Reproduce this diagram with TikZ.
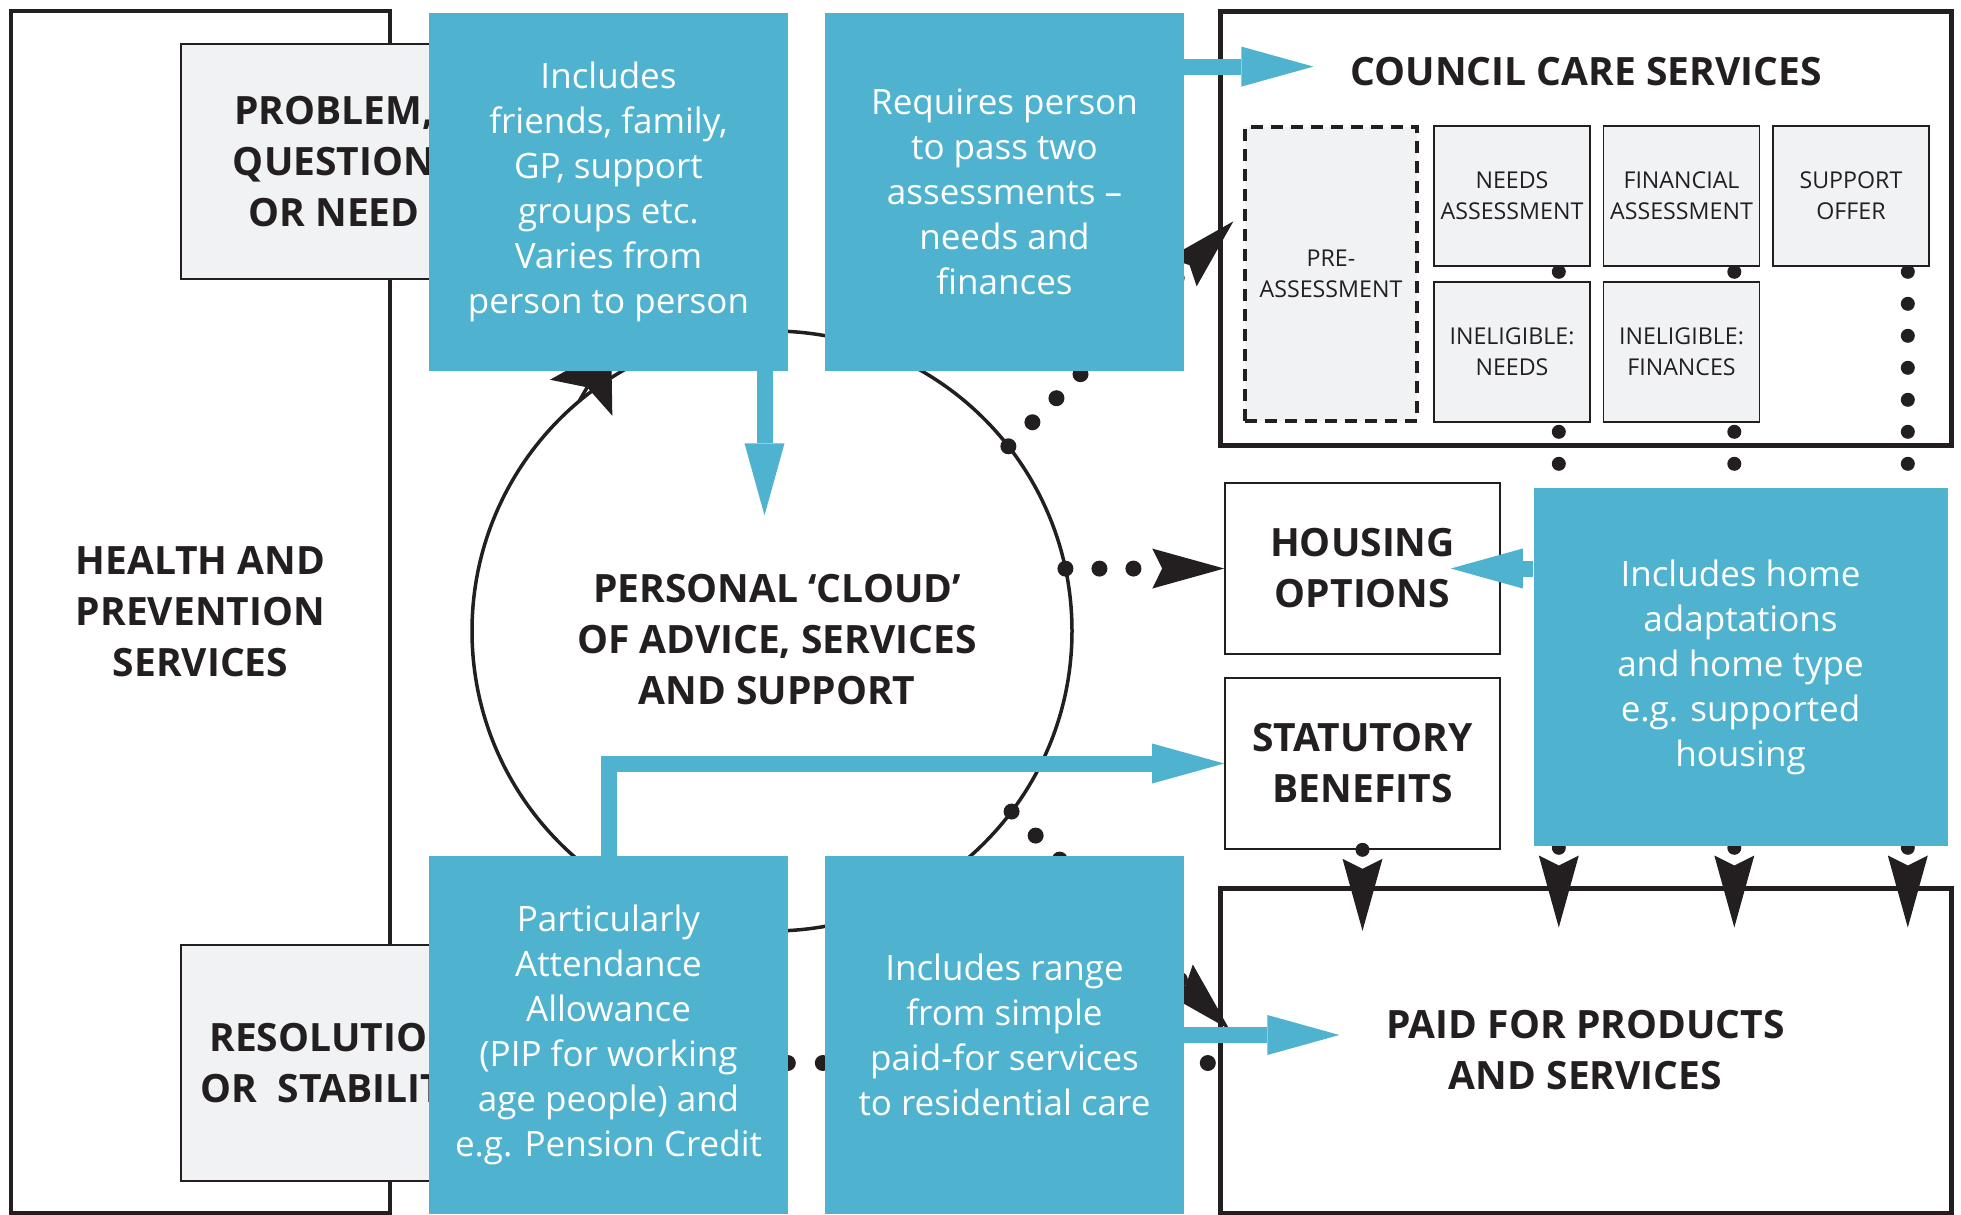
\documentclass[tikz,border=0pt]{standalone}
\usepackage{fontspec}
\setmainfont{Open Sans}
\usetikzlibrary{arrows.meta,calc}
\definecolor{cloudblue}{HTML}{4FB3D0}
\definecolor{inkblack}{HTML}{231F20}
\definecolor{boxgrey}{HTML}{F1F2F4}
\newcommand{\capsbold}{\fontsize{19.5}{25.5}\selectfont\bfseries}
\newcommand{\bluetext}{\fontsize{17.5}{22.5}\selectfont}
\newcommand{\subtext}{\fontsize{11.6}{15.5}\selectfont}
\pgfdeclarelayer{back}
\pgfsetlayers{back,main}
\tikzset{
  plainbox/.style={draw=inkblack, line width=0.8pt, inner sep=0pt, align=center, text=inkblack, font=\capsbold},
  greybox/.style={plainbox, fill=boxgrey},
  subbox/.style={greybox, font=\subtext, minimum width=78pt, minimum height=70pt},
  bigbox/.style={plainbox, line width=2.5pt},
  bluebox/.style={fill=cloudblue, text=white, inner sep=0pt, align=center, minimum width=179.5pt, minimum height=179pt, font=\bluetext},
  dotline/.style={draw=inkblack, line width=8pt, line cap=round, dash pattern=on 0pt off 17pt},
  dotcol/.style={draw=inkblack, line width=7pt, line cap=round, dash pattern=on 0pt off 16pt},
  blacktip/.style={-{Stealth[length=36pt,width=20pt,inset=5pt,line width=0pt]}},
  bluearrow/.style={draw=cloudblue, line width=8pt, -{Triangle[length=36pt,width=20pt,line width=0pt]}}
}

\begin{document}
\begin{tikzpicture}[x=0.5pt, y=-0.5pt]
    \useasboundingbox (0,0) rectangle (1961,1215);
    \node[plainbox, line width=1.75pt, minimum width=189.5pt, minimum height=601pt] (health) at (200.5,612) {HEALTH AND\\PREVENTION\\SERVICES};
    \node[greybox, minimum width=153pt, minimum height=117.5pt] (problem) at (334,161.5) {PROBLEM,\\QUESTION\\OR NEED};
    \node[greybox, minimum width=153pt, minimum height=118pt] (resol) at (334,1063) {RESOLUTION\\OR~~STABILITY};
    \node[draw=inkblack, line width=1.75pt, circle, minimum size=300pt, inner sep=0pt, outer sep=0pt] (cloud) at (772,631) {};
    \node[font=\capsbold, text=inkblack, align=center] (cloudtxt) at (777,640) {PERSONAL ‘CLOUD’\\OF ADVICE, SERVICES\\AND SUPPORT};

    \node[bigbox, minimum width=365.5pt, minimum height=217pt] (council) at (1585.5,228) {};
    \node[font=\capsbold, text=inkblack] (counciltxt) at (1586,72) {COUNCIL CARE SERVICES};
    \node[subbox, line width=2pt, dash pattern=on 6pt off 4pt, minimum width=86pt, minimum height=147pt] (pre) at (1331,274) {PRE-\\ASSESSMENT};
    \node[subbox] (needs) at (1512,196) {NEEDS\\ASSESSMENT};
    \node[subbox] (finan) at (1681.5,196) {FINANCIAL\\ASSESSMENT};
    \node[subbox] (support) at (1851,196) {SUPPORT\\OFFER};
    \node[subbox] (inneeds) at (1512,352) {INELIGIBLE:\\NEEDS};
    \node[subbox] (infin) at (1681.5,352) {INELIGIBLE:\\FINANCES};

    \node[plainbox, minimum width=137.5pt, minimum height=85.5pt] (housing) at (1362.5,568.5) {HOUSING\\OPTIONS};
    \node[plainbox, minimum width=137.5pt, minimum height=85.5pt] (statutory) at (1362.5,763.5) {STATUTORY\\BENEFITS};
    \node[bigbox, minimum width=365.5pt, minimum height=162.5pt] (paid) at (1585.5,1050.5) {PAID FOR PRODUCTS\\AND SERVICES};

    \node[bluebox] (b1) at (608.5,192) {Includes\\friends, family,\\GP, support\\groups etc.\\Varies from\\person to person};
    \node[bluebox] (b2) at (1004.5,192) {Requires person\\to pass two\\assessments –\\needs and\\finances};
    \node[bluebox, minimum width=207pt] (b3) at (1740.5,667) {Includes home\\adaptations\\and home type\\e.g. supported\\housing};
    \node[bluebox] (b4) at (608.5,1035) {Particularly\\Attendance\\Allowance\\(PIP for working\\age people) and\\e.g. Pension Credit};
    \node[bluebox] (b5) at (1004.5,1035) {Includes range\\from simple\\paid-for services\\to residential care};

    \begin{pgfonlayer}{back}
        \draw[line width=1.75pt, draw=inkblack, -{Stealth[length=30pt,width=36pt,inset=6pt,line width=0pt]}] (cloud.130) -- ++(60:32pt);
        \draw[dotline, blacktip] (cloud.38) -- ++(225,-225);
        \draw[dotline, blacktip] (cloud.12) -- (housing.west);
        \draw[dotline, blacktip] (cloud.-37) -- ++(218,218);
        \draw[dotline, dash pattern=on 0pt off 17.5pt, dash phase=7.5pt] (resol.east) -- (resol.east -| paid.west);
        \draw[dotcol, blacktip] ($(needs.south east)+(-32,5)$) -- ($(needs.south east |- paid.north)+(-32,42)$);
        \draw[dotcol, blacktip] ($(finan.south east)+(-26,5)$) -- ($(finan.south east |- paid.north)+(-26,42)$);
        \draw[dotcol, blacktip] ($(support.south east)+(-22,5)$) -- ($(support.south east |- paid.north)+(-22,42)$);
        \draw[dotcol, blacktip] (statutory.south) -- ++(0,81);
    \end{pgfonlayer}

    \draw[bluearrow] ($(b2.north east)+(0,54)$) -- ++(129,0);
    \draw[bluearrow] ($(b1.south)+(156,0)$) -- ++(0,144);
    \draw[bluearrow] (b3.west |- housing.east) -- ($(housing.east)+(-50,0)$);
    \draw[bluearrow] (b4.north) |- (statutory.west);
    \draw[bluearrow] (b5.east) -- ++(155,0);
\end{tikzpicture}
\end{document}
